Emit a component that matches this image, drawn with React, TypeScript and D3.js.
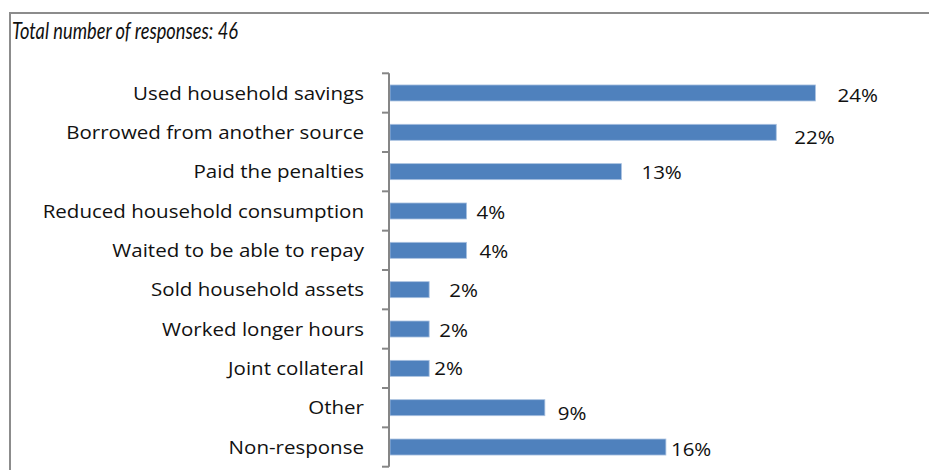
import React from "react";
import * as d3 from "d3";

// Coping strategies reported by borrowers, share of responses (%)
const categories = [
  "Used household savings",
  "Borrowed from another source",
  "Paid the penalties",
  "Reduced household consumption",
  "Waited to be able to repay",
  "Sold household assets",
  "Worked longer hours",
  "Joint collateral",
  "Other",
  "Non-response",
];
const shares = [23.9, 21.7, 13.0, 4.3, 4.3, 2.2, 2.2, 2.2, 8.7, 15.5];
const totalResponses = 46;

// Hand-placed data label offsets [dx, dy] from the bar end
const labelNudge: [number, number][] = [
  [22, 2], [18, 5], [20, 1], [10, 1], [13, 1], [20, 1], [10, 1], [5, 0], [13, 6], [5, 2],
];

const W = 929;
const H = 470;
const FONT = "'Open Sans', Lato, sans-serif";
const STRETCH = 1.08;

export default function App() {
  const y = d3
    .scaleBand<string>()
    .domain(categories)
    .range([73.3, 466.7])
    .paddingInner(0.593)
    .paddingOuter(0.593 / 2);
  const x = d3.scaleLinear().domain([0, 30]).range([390, 924]);
  const step = y.step();
  const tickYs = d3.range(categories.length + 1).map((i) => 73.3 + i * step);
  const mid = (c: string) => (y(c) ?? 0) + y.bandwidth() / 2;

  return (
    <svg
      width={W}
      height={H}
      style={{ position: "fixed", left: 0, top: 0, background: "#fff" }}
      fontFamily={FONT}
    >
      {/* frame */}
      <path d={`M10,${H} V13 H${W}`} fill="none" stroke="#8c8c8c" strokeWidth={2} />
      <text
        x={12}
        y={38.5}
        fontSize={24}
        fontStyle="italic"
        fontFamily="Lato, sans-serif"
        fill="#111"
        textLength={226}
        lengthAdjust="spacingAndGlyphs"
      >
        {`Total number of responses: ${totalResponses}`}
      </text>

      {/* bars */}
      {categories.map((c, i) => (
        <rect
          key={c}
          x={x(0)}
          y={y(c)}
          width={x(shares[i]) - x(0)}
          height={y.bandwidth()}
          fill="#4f81bd"
          stroke="#a9c1e0"
          strokeWidth={0.8}
        />
      ))}

      {/* category axis */}
      <line x1={389} x2={389} y1={tickYs[0]} y2={tickYs[tickYs.length - 1]} stroke="#868686" strokeWidth={2} />
      {tickYs.map((t, i) => (
        <line key={i} x1={382} x2={389} y1={t} y2={t} stroke="#868686" strokeWidth={2} />
      ))}
      {categories.map((c) => (
        <text
          key={c}
          transform={`translate(364,${mid(c)}) scale(${STRETCH},1)`}
          dy="0.35em"
          textAnchor="end"
          fontSize={19}
          fill="#111"
        >
          {c}
        </text>
      ))}

      {/* data labels */}
      {categories.map((c, i) => (
        <text
          key={c}
          transform={`translate(${x(shares[i]) + labelNudge[i][0]},${mid(c) + labelNudge[i][1]}) scale(${STRETCH},1)`}
          dy="0.35em"
          fontSize={19}
          fill="#111"
        >
          {`${Math.round(shares[i])}%`}
        </text>
      ))}
    </svg>
  );
}
